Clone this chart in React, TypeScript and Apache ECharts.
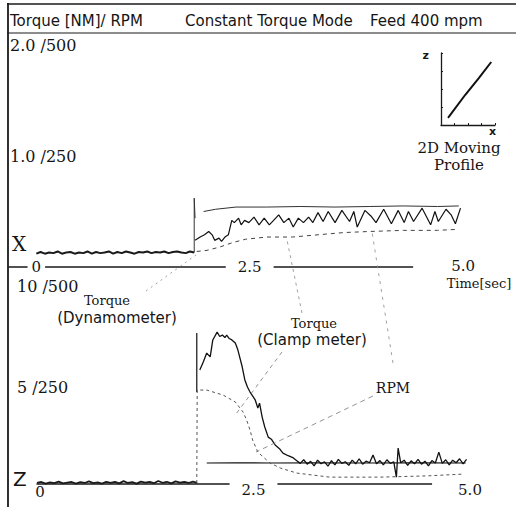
import React, { useEffect, useRef } from "react";
import * as echarts from "echarts";

// ---- data (time in seconds) ----
const baseTime = [0, 0.05, 0.1, 0.15, 0.2, 0.25, 0.3, 0.35, 0.4, 0.45, 0.5, 0.55, 0.6, 0.65, 0.7, 0.75, 0.8, 0.85, 0.9, 0.95, 1.0, 1.05, 1.1, 1.15, 1.2, 1.25, 1.3, 1.35, 1.4, 1.45, 1.5, 1.55, 1.6, 1.65, 1.7, 1.75, 1.8, 1.85];

// X direction (upper panel), torque [NM]
const topBase = [0.12, 0.135, 0.12, 0.13, 0.125, 0.14, 0.12, 0.13, 0.135, 0.12, 0.13, 0.125, 0.14, 0.12, 0.135, 0.125, 0.13, 0.14, 0.12, 0.135, 0.125, 0.14, 0.13, 0.12, 0.135, 0.13, 0.14, 0.125, 0.135, 0.13, 0.14, 0.125, 0.135, 0.14, 0.13, 0.125, 0.14, 0.13];
const topDyn: any[] = [[1.85, 0.13], [1.85, 0.62], [1.86, 0.44], [1.9, "-"], [1.96, 0.5], [2.1, 0.52], [2.34, 0.54], [2.7, 0.54], [3.1, 0.545], [3.5, 0.54], [3.9, 0.545], [4.3, 0.55], [4.7, 0.545], [4.95, 0.55]];
const topClamp = [[1.86, 0.24], [1.92, 0.27], [1.97, 0.29], [2.02, 0.32], [2.06, 0.29], [2.09, 0.24], [2.14, 0.26], [2.17, 0.23], [2.21, 0.27], [2.25, 0.29], [2.29, 0.42], [2.32, 0.4], [2.37, 0.44], [2.4, 0.38], [2.44, 0.42], [2.49, 0.4], [2.55, 0.45], [2.61, 0.38], [2.67, 0.44], [2.73, 0.38], [2.78, 0.42], [2.84, 0.47], [2.9, 0.4], [2.96, 0.44], [3.01, 0.36], [3.07, 0.44], [3.13, 0.4], [3.19, 0.45], [3.24, 0.4], [3.3, 0.49], [3.36, 0.41], [3.42, 0.5], [3.5, 0.4], [3.58, 0.51], [3.67, 0.41], [3.72, 0.5], [3.76, 0.36], [3.85, 0.51], [3.92, 0.46], [3.98, 0.4], [4.07, 0.52], [4.16, 0.39], [4.24, 0.51], [4.31, 0.4], [4.36, 0.5], [4.42, 0.41], [4.52, 0.53], [4.62, 0.38], [4.67, 0.5], [4.71, 0.41], [4.8, 0.52], [4.86, 0.47], [4.91, 0.39], [4.97, 0.53]];
const topRpm = [[1.88, 0.14], [2.0, 0.15], [2.15, 0.18], [2.3, 0.22], [2.45, 0.25], [2.7, 0.27], [3.0, 0.27], [3.3, 0.29], [3.6, 0.31], [3.9, 0.32], [4.3, 0.33], [4.7, 0.33], [4.95, 0.34]];

// Z direction (lower panel), torque [NM]
const bottomBase = [0.25, 0.3, 0.22, 0.28, 0.24, 0.32, 0.23, 0.27, 0.3, 0.22, 0.29, 0.25, 0.33, 0.24, 0.28, 0.22, 0.31, 0.26, 0.3, 0.23, 0.34, 0.25, 0.29, 0.22, 0.32, 0.27, 0.3, 0.24, 0.35, 0.26, 0.31, 0.23, 0.33, 0.27, 0.3, 0.25, 0.32, 0.26];
const bottomDyn: any[] = [[1.845, 4.75], [1.845, 7.67], [1.9, "-"], [1.96, 1.24], [2.3, 1.25], [2.7, 1.24], [3.2, 1.25], [3.8, 1.24], [4.4, 1.25], [4.95, 1.24]];
const bottomClamp = [[1.88, 5.84], [1.92, 6.24], [1.96, 6.68], [2.0, 6.49], [2.03, 7.33], [2.08, 7.72], [2.11, 7.5], [2.14, 7.57], [2.17, 7.45], [2.19, 7.57], [2.22, 7.4], [2.25, 7.33], [2.29, 7.18], [2.32, 6.83], [2.37, 5.99], [2.4, 5.35], [2.43, 5.0], [2.46, 4.75], [2.52, 4.36], [2.55, 3.96], [2.57, 4.2], [2.6, 3.51], [2.63, 3.02], [2.67, 2.52], [2.71, 2.4], [2.75, 2.13], [2.8, 1.95], [2.84, 1.73], [2.9, 1.6], [2.96, 1.49], [3.0, 1.35], [3.04, 1.22], [3.08, 1.4], [3.12, 1.18], [3.16, 1.32], [3.2, 1.1], [3.24, 1.38], [3.28, 1.2], [3.32, 1.3], [3.36, 1.08], [3.4, 1.36], [3.44, 1.15], [3.48, 1.42], [3.52, 1.22], [3.56, 1.3], [3.6, 1.12], [3.64, 1.38], [3.68, 1.2], [3.72, 1.45], [3.76, 1.18], [3.8, 1.33], [3.84, 1.25], [3.88, 1.63], [3.92, 1.2], [3.96, 1.36], [4.0, 1.15], [4.04, 1.4], [4.08, 1.22], [4.12, 1.3], [4.15, 0.54], [4.17, 1.98], [4.2, 1.25], [4.24, 1.38], [4.28, 1.12], [4.32, 1.35], [4.36, 1.2], [4.4, 1.42], [4.44, 1.18], [4.48, 1.33], [4.52, 1.1], [4.56, 1.36], [4.6, 1.24], [4.64, 1.78], [4.68, 1.22], [4.72, 1.4], [4.76, 1.15], [4.8, 1.38], [4.84, 1.25], [4.88, 1.45], [4.92, 1.2], [4.96, 1.42]];
const bottomRpm = [[1.845, 0.25], [1.85, 4.85], [1.96, 4.85], [2.15, 4.6], [2.29, 4.26], [2.38, 3.76], [2.42, 3.37], [2.46, 2.87], [2.49, 2.38], [2.55, 1.78], [2.69, 1.24], [2.81, 0.99], [3.0, 0.74], [3.38, 0.54], [3.96, 0.54], [4.5, 0.6], [4.92, 0.69]];

// 2D moving profile inset
const insetX = [0.13, 0.45, 0.7, 0.93];
const insetZ = [0.1, 0.42, 0.65, 0.875];

// tick labels
const timeTicks = [0, 2.5, 5];
const topYTicks = [1, 2];
const topYLabels: Record<number, string> = { 1: "1.0 /250", 2: "2.0 /500" };
const bottomYTicks = [5, 10];
const bottomYLabels: Record<number, string> = { 5: "5 /250", 10: "10 /500" };

const SERIF = "DejaVu Serif";
const SANS = "DejaVu Sans";
const INK = "#151515";

function txt(text: string, x: number, y: number, size: number, family: string, align = "left", weight = "normal") {
  return {
    type: "text",
    x,
    y,
    z: 100,
    style: { text, fontSize: size, fontFamily: family, fontWeight: weight, fill: INK, textAlign: align, textVerticalAlign: "middle" },
  };
}
function ln(x1: number, y1: number, x2: number, y2: number, w = 1.5, dash: any = null, color = "#1a1a1a") {
  return { type: "line", z: 90, shape: { x1, y1, x2, y2 }, style: { stroke: color, lineWidth: w, lineDash: dash } };
}

export default function App() {
  const ref = useRef<HTMLDivElement>(null);
  useEffect(() => {
    const chart = echarts.init(ref.current!, null, { renderer: "svg" });
    const lineBase = { type: "line", showSymbol: false, clip: false, silent: true };
    const labelBg = { backgroundColor: "#fff" };
    chart.setOption({
      animation: false,
      backgroundColor: "#fff",
      grid: [
        { left: 9, top: 45, width: 461, height: 222 },
        { left: 37, top: 286, width: 433, height: 198 },
        { left: 441, top: 53, width: 54, height: 72 },
      ],
      xAxis: [
        {
          type: "value", gridIndex: 0, min: -0.32, max: 5,
          axisLine: { show: true, lineStyle: { color: "#1a1a1a", width: 1.5 } },
          axisTick: { show: false }, splitLine: { show: false },
          axisLabel: {
            customValues: timeTicks, margin: 0, verticalAlign: "middle", fontFamily: SERIF, fontSize: 15, color: INK,
            formatter: (v: number) => (v === 0 ? "{a|0}" : v === 2.5 ? "{b|2.5}" : "{c|5.0}"),
            rich: {
              a: { ...labelBg, padding: [1, 4], fontFamily: SERIF, fontSize: 15, color: INK },
              b: { ...labelBg, padding: [1, 12], fontFamily: SERIF, fontSize: 15, color: INK },
              c: { ...labelBg, padding: [0, 38, 2, 38], lineHeight: 12, fontFamily: SERIF, fontSize: 15, color: INK },
            },
          },
        },
        {
          type: "value", gridIndex: 1, min: 0, max: 5,
          axisLine: { show: true, lineStyle: { color: "#1a1a1a", width: 1.5 } },
          axisTick: { show: false }, splitLine: { show: false },
          axisLabel: {
            customValues: timeTicks, margin: 6, verticalAlign: "middle", fontFamily: SERIF, fontSize: 15, color: INK,
            formatter: (v: number) => (v === 0 ? "{a|0}" : v === 2.5 ? "{b|2.5}" : "{c|5.0}"),
            rich: {
              a: { padding: [3, 0, 0, 6], fontFamily: SERIF, fontSize: 15, color: INK },
              b: { ...labelBg, padding: [3, 12], fontFamily: SERIF, fontSize: 15, color: INK },
              c: { ...labelBg, padding: [3, 26], fontFamily: SERIF, fontSize: 15, color: INK },
            },
          },
        },
        {
          type: "value", gridIndex: 2, min: 0, max: 1, interval: 0.25,
          name: "x", nameLocation: "end", nameGap: -6,
          nameTextStyle: { fontFamily: SANS, fontSize: 11, fontWeight: "bold", color: INK, verticalAlign: "top", padding: [1, 0, 0, 0] },
          axisLine: { show: true, lineStyle: { color: "#1a1a1a", width: 1.3 } },
          axisTick: { show: true, inside: true, length: 2, lineStyle: { color: "#1a1a1a" } },
          axisLabel: { show: false }, splitLine: { show: false },
        },
      ],
      yAxis: [
        {
          type: "value", gridIndex: 0, min: 0, max: 2,
          axisLine: { show: false }, axisTick: { show: false }, splitLine: { show: false },
          axisLabel: {
            customValues: topYTicks, inside: true, margin: 1, align: "left", fontFamily: SERIF, fontSize: 16, color: INK,
            formatter: (v: number) => topYLabels[v] ?? "",
          },
        },
        {
          type: "value", gridIndex: 1, min: 0.2, max: 10,
          axisLine: { show: false }, axisTick: { show: false }, splitLine: { show: false },
          axisLabel: {
            customValues: bottomYTicks, margin: 20, align: "left", fontFamily: SERIF, fontSize: 16, color: INK,
            formatter: (v: number) => bottomYLabels[v] ?? "",
          },
        },
        {
          type: "value", gridIndex: 2, min: 0, max: 1, interval: 0.25,
          name: "z", nameLocation: "end", nameGap: -8,
          nameTextStyle: { fontFamily: SANS, fontSize: 11, fontWeight: "bold", color: INK, align: "right", padding: [0, 12, 0, 0] },
          axisLine: { show: true, lineStyle: { color: "#1a1a1a", width: 1.3 } },
          axisTick: { show: true, inside: true, length: 2, lineStyle: { color: "#1a1a1a" } },
          axisLabel: { show: false }, splitLine: { show: false },
        },
      ],
      series: [
        { ...lineBase, name: "X base", xAxisIndex: 0, yAxisIndex: 0, data: baseTime.map((t, i) => [t, topBase[i]]), lineStyle: { color: "#1a1a1a", width: 2 } },
        { ...lineBase, name: "X Torque (Dynamometer)", xAxisIndex: 0, yAxisIndex: 0, data: topDyn, lineStyle: { color: "#333", width: 1 } },
        { ...lineBase, name: "X Torque (Clamp meter)", xAxisIndex: 0, yAxisIndex: 0, data: topClamp, lineStyle: { color: "#111", width: 1.2 } },
        { ...lineBase, name: "X RPM", xAxisIndex: 0, yAxisIndex: 0, data: topRpm, lineStyle: { color: "#444", width: 1, type: [4, 4] } },
        { ...lineBase, name: "Z base", xAxisIndex: 1, yAxisIndex: 1, data: baseTime.map((t, i) => [t, bottomBase[i]]), lineStyle: { color: "#1a1a1a", width: 1.8 } },
        { ...lineBase, name: "Z Torque (Dynamometer)", xAxisIndex: 1, yAxisIndex: 1, data: bottomDyn, lineStyle: { color: "#111", width: 1.2 } },
        { ...lineBase, name: "Z Torque (Clamp meter)", xAxisIndex: 1, yAxisIndex: 1, data: bottomClamp, lineStyle: { color: "#111", width: 1.3 } },
        { ...lineBase, name: "Z RPM", xAxisIndex: 1, yAxisIndex: 1, data: bottomRpm, lineStyle: { color: "#555", width: 1, type: [3, 3] } },
        { ...lineBase, name: "2D profile", xAxisIndex: 2, yAxisIndex: 2, data: insetX.map((x, i) => [x, insetZ[i]]), lineStyle: { color: "#111", width: 2 } },
      ],
      graphic: [
        ln(7, 4, 516, 4, 1.5),
        ln(7, 33, 516, 33, 1.2),
        ln(8, 3, 8, 507, 1.8),
        txt("Torque [NM]/ RPM", 10, 21, 15, SANS),
        txt("Constant Torque Mode", 185, 21, 15, SANS),
        txt("Feed 400 mpm", 370, 21, 15, SANS),
        txt("X", 12, 244, 20, SERIF),
        txt("Z", 13, 479, 20, SANS),
        txt("Time[sec]", 479, 283, 13, SERIF, "center"),
        txt("2D Moving", 459, 148, 15, SERIF, "center"),
        txt("Profile", 459, 165, 15, SERIF, "center"),
        txt("Torque", 107, 300, 13, SERIF, "center"),
        txt("(Dynamometer)", 117, 318, 15, SANS, "center"),
        txt("Torque", 314, 323, 13, SERIF, "center"),
        txt("(Clamp meter)", 312, 340, 15, SANS, "center"),
        txt("RPM", 393, 388, 14, SERIF, "center"),
        ln(146, 291, 196, 255, 0.8, [2, 4], "#888"),
        ln(302, 313, 287, 240, 0.8, [3, 4], "#888"),
        ln(282, 352, 236, 414, 0.8, [4, 4], "#777"),
        ln(393, 363, 372, 232, 0.8, [3, 5], "#888"),
        ln(373, 396, 256, 452, 0.8, [5, 4], "#777"),
      ],
    });
    return () => chart.dispose();
  }, []);
  return <div ref={ref} style={{ width: 516, height: 507, position: "absolute", left: 0, top: 0 }} />;
}
